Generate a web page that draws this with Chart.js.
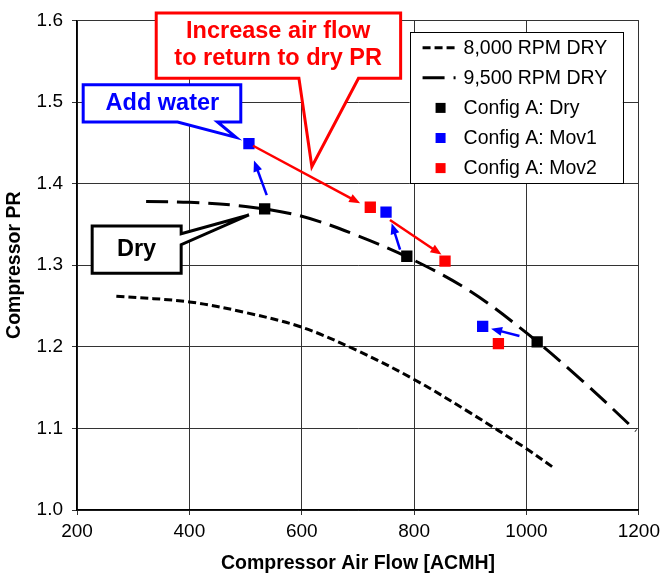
<!DOCTYPE html>
<html>
<head>
<meta charset="utf-8">
<script src="https://cdn.jsdelivr.net/npm/chart.js@4"></script>
<style>
  html, body { margin: 0; padding: 0; background: #fff; }
</style>
</head>
<body>
<canvas id="myChart" width="665" height="573"></canvas>
<script>
// speed lines
const rpm8000Flow = [270, 400, 500, 600, 700, 800, 900, 1000, 1050];
const rpm8000PR = [1.262, 1.255, 1.242, 1.224, 1.195, 1.160, 1.119, 1.075, 1.051];
const rpm9500Flow = [323, 400, 500, 600, 700, 800, 900, 1000, 1100, 1195];
const rpm9500PR = [1.378, 1.377, 1.372, 1.360, 1.336, 1.306, 1.268, 1.217, 1.158, 1.097];

// test points
const dryFlow = [534, 787, 1019];
const dryPR = [1.369, 1.311, 1.206];
const mov1Flow = [506, 750, 922];
const mov1PR = [1.449, 1.365, 1.225];
const mov2Flow = [722, 855, 950];
const mov2PR = [1.371, 1.305, 1.204];

const xTicks = [200, 400, 600, 800, 1000, 1200];
const yTicks = [1.0, 1.1, 1.2, 1.3, 1.4, 1.5, 1.6];

// arrows [fromFlow, fromPR, toFlow, toPR]
const blueArrows = [[537.7, 1.3858, 515, 1.4283], [775, 1.3192, 760, 1.3515], [987.5, 1.2133, 937, 1.2222]];
const redArrows = [[513.4, 1.4464, 704, 1.3758], [757, 1.3555, 848.7, 1.313]];

// callout boxes, outlines in data units
const callouts = [
  {
    color: "#ff0000",
    lines: ["Increase air flow", "to return to dry PR"],
    textAt: [[558, 1.5858], [558, 1.5527]],
    shape: [[341, 1.609], [776, 1.609], [776, 1.529], [701, 1.529], [618, 1.4206], [595, 1.529], [341, 1.529]],
  },
  {
    color: "#0000ff",
    lines: ["Add water"],
    textAt: [[352, 1.4978]],
    shape: [[211, 1.521], [491.5, 1.521], [491.5, 1.4755], [450, 1.4755], [483, 1.4566], [379, 1.4755], [211, 1.4755]],
  },
  {
    color: "#000000",
    lines: ["Dry"],
    textAt: [[306, 1.3192]],
    shape: [[227, 1.348], [385.4, 1.348], [385.4, 1.3385], [506, 1.3616], [385.4, 1.3252], [385.4, 1.290], [227, 1.290]],
  },
];

const FONT = "'Liberation Sans', Arial, sans-serif";
const pts = (xs, ys) => xs.map((x, i) => ({ x: x, y: ys[i] }));

function drawArrow(ctx, chart, a, color) {
  const x1 = chart.scales.x.getPixelForValue(a[0]);
  const y1 = chart.scales.y.getPixelForValue(a[1]);
  const x2 = chart.scales.x.getPixelForValue(a[2]);
  const y2 = chart.scales.y.getPixelForValue(a[3]);
  const ang = Math.atan2(y2 - y1, x2 - x1);
  const head = 11;
  ctx.save();
  ctx.strokeStyle = color;
  ctx.fillStyle = color;
  ctx.lineWidth = 2.5;
  ctx.beginPath();
  ctx.moveTo(x1, y1);
  ctx.lineTo(x2 - Math.cos(ang) * head * 0.8, y2 - Math.sin(ang) * head * 0.8);
  ctx.stroke();
  ctx.beginPath();
  ctx.moveTo(x2, y2);
  ctx.lineTo(x2 - head * Math.cos(ang) + 4.5 * Math.sin(ang), y2 - head * Math.sin(ang) - 4.5 * Math.cos(ang));
  ctx.lineTo(x2 - head * Math.cos(ang) - 4.5 * Math.sin(ang), y2 - head * Math.sin(ang) + 4.5 * Math.cos(ang));
  ctx.closePath();
  ctx.fill();
  ctx.restore();
}

const annotations = {
  id: "annotations",
  afterDatasetsDraw(chart) {
    const ctx = chart.ctx;
    blueArrows.forEach((a) => drawArrow(ctx, chart, a, "#0000ff"));
    redArrows.forEach((a) => drawArrow(ctx, chart, a, "#ff0000"));
  },
  afterDraw(chart) {
    const ctx = chart.ctx;
    const sx = chart.scales.x, sy = chart.scales.y;

    callouts.forEach((c) => {
      ctx.save();
      ctx.beginPath();
      c.shape.forEach((p, i) => {
        const px = sx.getPixelForValue(p[0]), py = sy.getPixelForValue(p[1]);
        if (i === 0) ctx.moveTo(px, py); else ctx.lineTo(px, py);
      });
      ctx.closePath();
      ctx.fillStyle = "#fff";
      ctx.fill();
      ctx.lineWidth = 3;
      ctx.lineJoin = "miter";
      ctx.strokeStyle = c.color;
      ctx.stroke();
      ctx.fillStyle = c.color;
      ctx.font = "bold 23.5px " + FONT;
      ctx.textAlign = "center";
      ctx.textBaseline = "middle";
      c.lines.forEach((t, i) => {
        ctx.fillText(t, sx.getPixelForValue(c.textAt[i][0]), sy.getPixelForValue(c.textAt[i][1]));
      });
      ctx.restore();
    });

    // legend box
    const ca = chart.chartArea;
    const left = ca.right - 229.3, top = ca.top + 11.7;
    ctx.save();
    ctx.fillStyle = "#fff";
    ctx.fillRect(left, top, 213.3, 151.3);
    ctx.strokeStyle = "#000";
    ctx.lineWidth = 1;
    ctx.strokeRect(Math.round(left) + 0.5, Math.round(top) + 0.5, 213, 151);
    ctx.font = "19.5px " + FONT;
    ctx.textBaseline = "middle";
    ctx.textAlign = "left";
    chart.data.datasets.forEach((ds, i) => {
      const y = top + 15.6 + i * 30.1;
      if (ds.showLine) {
        ctx.save();
        ctx.strokeStyle = ds.borderColor;
        ctx.lineWidth = ds.borderWidth;
        ctx.setLineDash(ds.borderDash);
        ctx.beginPath();
        ctx.moveTo(left + 13, y);
        ctx.lineTo(left + 46, y);
        ctx.stroke();
        ctx.restore();
      } else {
        ctx.fillStyle = ds.backgroundColor;
        ctx.fillRect(left + 26, y - 5, 10, 10);
      }
      ctx.fillStyle = "#000";
      ctx.fillText(ds.label, left + 54, y + 1);
    });
    ctx.restore();
  },
};

const lineStyle = { showLine: true, pointRadius: 0, borderColor: "#000", borderWidth: 3, tension: 0.35, fill: false, order: 2 };
const markStyle = { showLine: false, pointStyle: "rect", pointRadius: 8, borderWidth: 0, order: 1 };

const ctx = document.getElementById("myChart").getContext("2d");
const myChart = new Chart(ctx, {
  type: "scatter",
  data: {
    datasets: [
      { ...lineStyle, label: "8,000 RPM DRY", data: pts(rpm8000Flow, rpm8000PR), borderDash: [8, 4] },
      { ...lineStyle, label: "9,500 RPM DRY", data: pts(rpm9500Flow, rpm9500PR), borderDash: [22, 9] },
      { ...markStyle, label: "Config A: Dry", data: pts(dryFlow, dryPR), backgroundColor: "#000", borderColor: "#000" },
      { ...markStyle, label: "Config A: Mov1", data: pts(mov1Flow, mov1PR), backgroundColor: "#0000ff", borderColor: "#0000ff" },
      { ...markStyle, label: "Config A: Mov2", data: pts(mov2Flow, mov2PR), backgroundColor: "#ff0000", borderColor: "#ff0000" },
    ],
  },
  options: {
    responsive: false,
    animation: false,
    devicePixelRatio: 1,
    layout: { padding: { top: 15, right: 23, bottom: 0, left: 0 } },
    plugins: { legend: { display: false }, tooltip: { enabled: false } },
    scales: {
      x: {
        type: "linear",
        min: 200,
        max: 1200,
        afterBuildTicks: (s) => { s.ticks = xTicks.map((v) => ({ value: v })); },
        afterFit: (s) => { s.height = 63; },
        grid: { color: "#333", lineWidth: 1, tickLength: 5 },
        border: { color: "#000", width: 1.5 },
        ticks: { color: "#000", font: { family: FONT, size: 19 }, padding: 5, maxRotation: 0, callback: (v) => String(v) },
        title: { display: true, text: "Compressor Air Flow [ACMH]", color: "#000", font: { family: FONT, size: 19.5, weight: "bold", lineHeight: 1 }, padding: { top: 0, bottom: 0 } },
      },
      y: {
        type: "linear",
        min: 1.0,
        max: 1.6,
        afterBuildTicks: (s) => { s.ticks = yTicks.map((v) => ({ value: v })); },
        afterFit: (s) => { s.width = 77; },
        grid: { color: "#333", lineWidth: 1, tickLength: 5 },
        border: { color: "#000", width: 1.5 },
        ticks: { color: "#000", font: { family: FONT, size: 19 }, padding: 9, callback: (v) => v.toFixed(1) },
        title: { display: true, text: "Compressor PR", color: "#000", font: { family: FONT, size: 19.5, weight: "bold", lineHeight: 1 }, padding: { top: 5, bottom: 0 } },
      },
    },
  },
  plugins: [annotations],
});
</script>
</body>
</html>
